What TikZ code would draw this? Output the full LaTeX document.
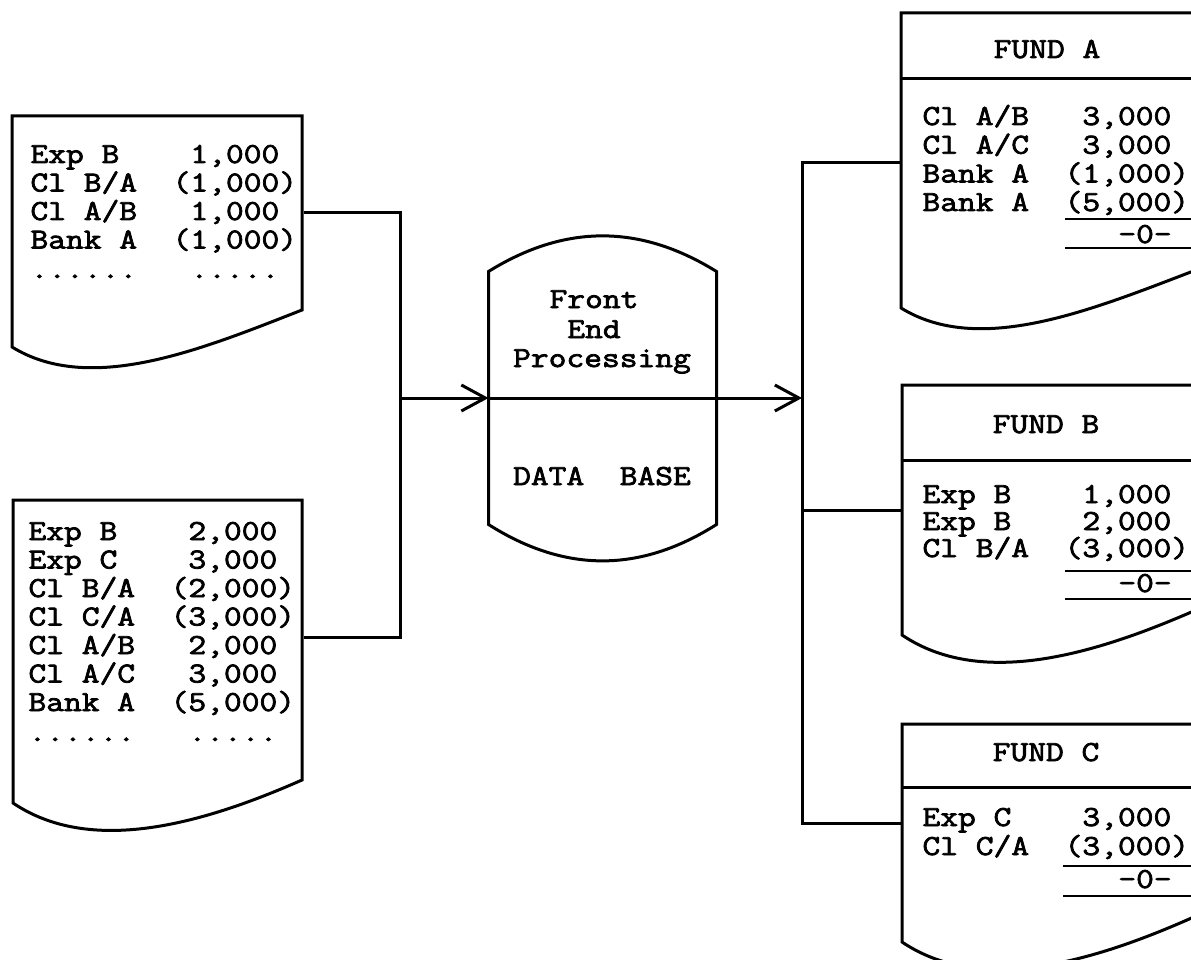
\documentclass[tikz,border=0pt]{standalone}
\usepackage{fontspec}
\newfontfamily\ledger{Latin Modern Mono}[FakeStretch=1.19, FakeBold=2.6]
\newcommand\blnk{\hphantom{0}}
\usetikzlibrary{arrows.meta}

\begin{document}
\begin{tikzpicture}[x=1pt,y=-1pt,
  line width=3pt,
  frame/.style={line width=3pt, line join=miter},
  rule/.style={line width=2.5pt},
  area/.style={inner sep=0pt, draw=none, minimum width=#1},
  txt/.style={anchor=base west, inner sep=0pt,
    font=\ledger\fontsize{29}{29}\selectfont},
  ctxt/.style={txt, anchor=base},
  flow/.style={-{Straight Barb[length=24pt,width=26pt,line width=3pt]}}]

\useasboundingbox (0,0) rectangle (1191,960);
\clip (0,0) rectangle (1191,960);

% ---------- input slips ----------
\node[area=290pt, minimum height=194pt] (slip1) at (157,213) {};
\draw[frame] (302,310) -- (302,116) -- (12,116) -- (12,347)
  .. controls (90,395) and (200,350) .. cycle;
\node[txt] (s1r1) at (29,163)   {Exp\blnk B\blnk\blnk\blnk\blnk 1,000};
\node[txt] (s1r2) at (29,191.5) {Cl\blnk B/A\blnk\blnk(1,000)};
\node[txt] (s1r3) at (29,220)   {Cl\blnk A/B\blnk\blnk\blnk 1,000};
\node[txt] (s1r4) at (29,248.5) {Bank\blnk A\blnk\blnk(1,000)};
\node[txt] (s1r5) at (29,278)   {......\blnk\blnk\blnk.....};

\node[area=289pt, minimum height=274pt] (slip2) at (157.5,637) {};
\draw[frame] (302,780) -- (302,500) -- (13,500) -- (13,803)
  .. controls (90,855) and (200,825) .. cycle;
\node[txt] (s2r1) at (27,540)   {Exp\blnk B\blnk\blnk\blnk\blnk 2,000};
\node[txt] (s2r2) at (27,568.5) {Exp\blnk C\blnk\blnk\blnk\blnk 3,000};
\node[txt] (s2r3) at (27,597)   {Cl\blnk B/A\blnk\blnk(2,000)};
\node[txt] (s2r4) at (27,625.5) {Cl\blnk C/A\blnk\blnk(3,000)};
\node[txt] (s2r5) at (27,654)   {Cl\blnk A/B\blnk\blnk\blnk 2,000};
\node[txt] (s2r6) at (27,682.5) {Cl\blnk A/C\blnk\blnk\blnk 3,000};
\node[txt] (s2r7) at (27,711)   {Bank\blnk A\blnk\blnk(5,000)};
\node[txt] (s2r8) at (27,741)   {......\blnk\blnk\blnk.....};

% ---------- data base drum ----------
\node[area=225pt, minimum height=250pt] (db) at (602.5,398) {};
\draw[frame] (db.north west)
  .. controls (565,224) and (640,224) .. (db.north east)
  -- (db.south east)
  .. controls (640,573) and (565,573) .. (db.south west) -- cycle;
\node[ctxt] (dbt1) at (594,308) {Front};
\node[ctxt] (dbt2) at (594,338) {End};
\node[ctxt] (dbt3) at (602,367) {Processing};
\node[ctxt] (dbt4) at (602,485) {DATA\blnk\blnk BASE};

% ---------- fund ledgers ----------
\node[area=290pt, minimum height=295pt] (fundA) at (1046,160.5) {};
\draw[frame] (1196,270) -- (1196,13) -- (901,13) -- (901,308)
  .. controls (979,356) and (1089,311) .. cycle;
\draw[frame] (901,79) -- (1196,79);
\node[ctxt] (fAh) at (1047,58) {FUND\blnk A};
\node[txt] (fAr1) at (921,125)   {Cl\blnk A/B\blnk\blnk\blnk 3,000};
\node[txt] (fAr2) at (921,153.7) {Cl\blnk A/C\blnk\blnk\blnk 3,000};
\node[txt] (fAr3) at (921,182.4) {Bank\blnk A\blnk\blnk(1,000)};
\node[txt] (fAr4) at (921,211)   {Bank\blnk A\blnk\blnk(5,000)};
\draw[rule] (1065,219) -- (1196,219);
\node[ctxt] (fAz) at (1145,243) {-0-};
\draw[rule] (1065,248) -- (1196,248);

\node[area=290pt, minimum height=250pt] (fundB) at (1047,510) {};
\draw[frame] (1196,610) -- (1196,385) -- (902,385) -- (902,635)
  .. controls (979,687) and (1089,657) .. cycle;
\draw[frame] (902,460) -- (1196,460);
\node[ctxt] (fBh) at (1046,433) {FUND\blnk B};
\node[txt] (fBr1) at (921,503) {Exp\blnk B\blnk\blnk\blnk\blnk 1,000};
\node[txt] (fBr2) at (921,530) {Exp\blnk B\blnk\blnk\blnk\blnk 2,000};
\node[txt] (fBr3) at (921,557) {Cl\blnk B/A\blnk\blnk(3,000)};
\draw[rule] (1065,571) -- (1196,571);
\node[ctxt] (fBz) at (1145,592) {-0-};
\draw[rule] (1065,599) -- (1196,599);

\node[area=290pt, minimum height=218pt] (fundC) at (1047,833) {};
\draw[frame] (1196,916) -- (1196,724) -- (902,724) -- (902,942)
  .. controls (979,994) and (1089,964) .. cycle;
\draw[frame] (902,787) -- (1196,787);
\node[ctxt] (fCh) at (1046,761) {FUND\blnk C};
\node[txt] (fCr1) at (921,826) {Exp\blnk C\blnk\blnk\blnk\blnk 3,000};
\node[txt] (fCr2) at (921,855) {Cl\blnk C/A\blnk\blnk(3,000)};
\draw[rule] (1063,866) -- (1196,866);
\node[ctxt] (fCz) at (1145,888) {-0-};
\draw[rule] (1063,896) -- (1196,896);

% ---------- connectors ----------
\coordinate (lj1) at (400,213);
\coordinate (lj2) at (400,637);
\coordinate (lmid) at (400,398);
\coordinate (rmid) at (802,398);
\coordinate (rj1) at (802,163);
\coordinate (rj2) at (802,510);
\coordinate (rj3) at (802,823);

\draw[frame] (slip1.east) -- (lj1) -- (lj2) -- (slip2.east |- lj2);
\draw[flow] (lmid) -- (db.west);
\draw (db.west) -- (db.east);
\draw[flow] (db.east) -- (rmid);
\draw[frame] (fundA.west |- rj1) -- (rj1) -- (rj3) -- (fundC.west |- rj3);
\draw (rj2) -- (fundB.west |- rj2);

\end{tikzpicture}
\end{document}
